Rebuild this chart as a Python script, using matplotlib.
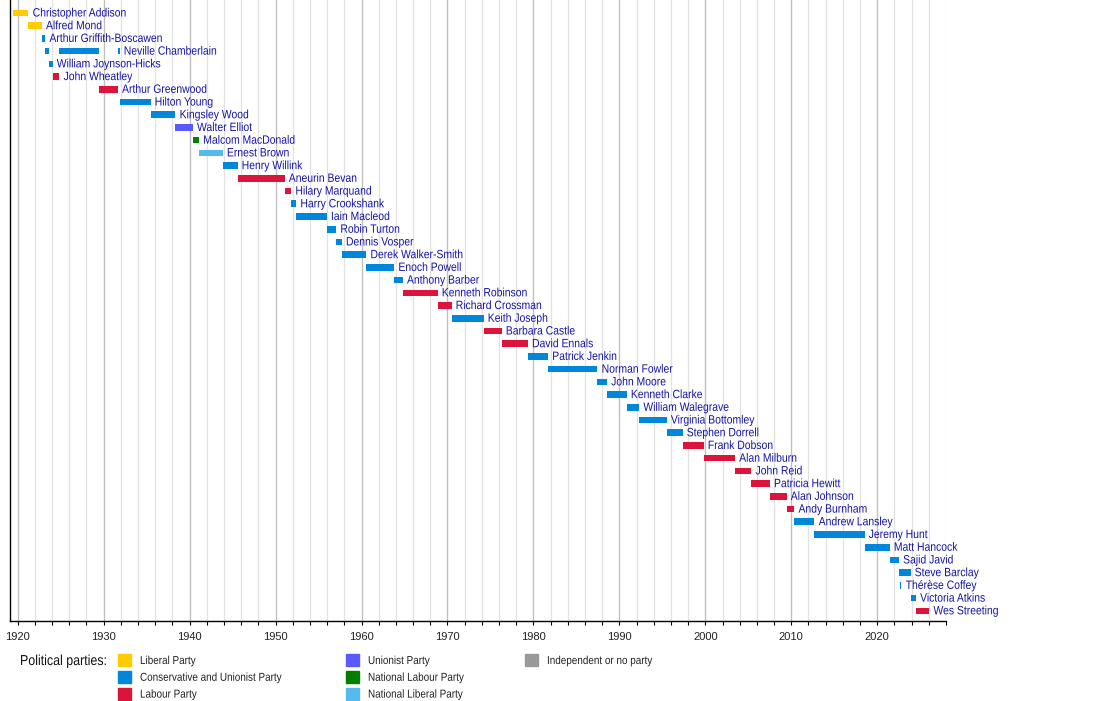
#!/usr/bin/env python3
"""Timeline of Ministers / Secretaries of State for Health, coloured by party"""

import matplotlib
matplotlib.use('Agg')
import matplotlib.pyplot as plt
from matplotlib.patches import Rectangle
from matplotlib.patheffects import AbstractPathEffect
from matplotlib.transforms import Affine2D
from matplotlib.ticker import MultipleLocator

FONT = ['Liberation Sans Narrow', 'Liberation Sans', 'DejaVu Sans']
NAME_C = '#1414a8'
SQ = 0.86   # no narrow face installed, so squeeze the glyphs by hand

# one row per person, top to bottom
names = ['Christopher Addison', 'Alfred Mond', 'Arthur Griffith-Boscawen',
         'Neville Chamberlain', 'William Joynson-Hicks', 'John Wheatley',
         'Arthur Greenwood', 'Hilton Young', 'Kingsley Wood', 'Walter Elliot',
         'Malcom MacDonald', 'Ernest Brown', 'Henry Willink', 'Aneurin Bevan',
         'Hilary Marquand', 'Harry Crookshank', 'Iain Macleod', 'Robin Turton',
         'Dennis Vosper', 'Derek Walker-Smith', 'Enoch Powell', 'Anthony Barber',
         'Kenneth Robinson', 'Richard Crossman', 'Keith Joseph', 'Barbara Castle',
         'David Ennals', 'Patrick Jenkin', 'Norman Fowler', 'John Moore',
         'Kenneth Clarke', 'William Walegrave', 'Virginia Bottomley',
         'Stephen Dorrell', 'Frank Dobson', 'Alan Milburn', 'John Reid',
         'Patricia Hewitt', 'Alan Johnson', 'Andy Burnham', 'Andrew Lansley',
         'Jeremy Hunt', 'Matt Hancock', 'Sajid Javid', 'Steve Barclay',
         'Thérèse Coffey', 'Victoria Atkins', 'Wes Streeting']

# terms in office (row index, start, end, party)
term_row = [0, 1, 2, 3, 3, 3, 4, 5, 6, 7, 8, 9, 10, 11, 12, 13, 14, 15, 16, 17,
            18, 19, 20, 21, 22, 23, 24, 25, 26, 27, 28, 29, 30, 31, 32, 33, 34,
            35, 36, 37, 38, 39, 40, 41, 42, 43, 44, 45, 46, 47]
term_start = [1919.47, 1921.25, 1922.80, 1923.20, 1924.85, 1931.65, 1923.65,
              1924.05, 1929.42, 1931.85, 1935.45, 1938.35, 1940.37, 1941.10,
              1943.85, 1945.57, 1951.05, 1951.82, 1952.40, 1955.95, 1957.05,
              1957.70, 1960.55, 1963.80, 1964.80, 1968.85, 1970.47, 1974.20,
              1976.30, 1979.35, 1981.70, 1987.45, 1988.55, 1990.85, 1992.30,
              1995.50, 1997.35, 1999.80, 2003.45, 2005.35, 2007.50, 2009.45,
              2010.35, 2012.70, 2018.52, 2021.45, 2022.52, 2022.68, 2023.87,
              2024.50]
term_end = [1921.25, 1922.80, 1923.20, 1923.65, 1929.42, 1931.85, 1924.05,
            1924.85, 1931.65, 1935.45, 1938.35, 1940.37, 1941.10, 1943.85,
            1945.57, 1951.05, 1951.82, 1952.40, 1955.95, 1957.05, 1957.70,
            1960.55, 1963.80, 1964.80, 1968.85, 1970.47, 1974.20, 1976.30,
            1979.35, 1981.70, 1987.45, 1988.55, 1990.85, 1992.30, 1995.50,
            1997.35, 1999.80, 2003.45, 2005.35, 2007.50, 2009.45, 2010.35,
            2012.70, 2018.52, 2021.45, 2022.52, 2023.87, 2022.82, 2024.50,
            2026.05]
term_party = ['lib', 'lib', 'con', 'con', 'con', 'con', 'con', 'lab', 'lab',
              'con', 'con', 'uni', 'nlab', 'nlib', 'con', 'lab', 'lab', 'con',
              'con', 'con', 'con', 'con', 'con', 'con', 'lab', 'lab', 'con',
              'lab', 'lab', 'con', 'con', 'con', 'con', 'con', 'con', 'con',
              'lab', 'lab', 'lab', 'lab', 'lab', 'lab', 'con', 'con', 'con',
              'con', 'con', 'con', 'con', 'lab']

party_keys = ['lib', 'con', 'lab', 'uni', 'nlab', 'nlib', 'ind']
party_labels = ['Liberal Party', 'Conservative and Unionist Party', 'Labour Party',
                'Unionist Party', 'National Labour Party', 'National Liberal Party',
                'Independent or no party']
party_colors = ['#FFCC00', '#0087DC', '#DC143C', '#5A5AFF', '#007F00',
                '#55BBEE', '#999999']
COLOR = dict(zip(party_keys, party_colors))


class Squeeze(AbstractPathEffect):
    """scale text paths horizontally about a fixed display x"""
    def __init__(self, x0, sx):
        super().__init__()
        self.x0, self.sx = x0, sx

    def draw_path(self, renderer, gc, tpath, affine, rgbFace=None):
        aff = affine + Affine2D().translate(-self.x0, 0).scale(self.sx, 1).translate(self.x0, 0)
        renderer.draw_path(gc, tpath, aff, rgbFace)


W, H = 1100, 701
fig = plt.figure(figsize=(W / 100, H / 100), dpi=100)
ax = fig.add_axes([10 / W, 80 / H, 936 / W, 621 / H])
ax.set_xlim(1919.1, 2028)
ax.set_ylim(47.8, -1.02)

for r, s, e, p in zip(term_row, term_start, term_end, term_party):
    ax.barh(r, e - s, left=s, height=0.52, color=COLOR[p], linewidth=0, zorder=3)

# name sits after the last term of each row
GAP = 4.2
for i, nm in enumerate(names):
    last = max(e for r, e in zip(term_row, term_end) if r == i)
    x0 = ax.transData.transform((last, i))[0] + GAP
    ax.annotate(nm, (last, i), xytext=(GAP * 0.72, 0.7), textcoords='offset points',
                va='center_baseline', ha='left', fontsize=8.7, color=NAME_C,
                family=FONT, zorder=4, path_effects=[Squeeze(x0, SQ)])

ax.xaxis.set_major_locator(MultipleLocator(10))
ax.xaxis.set_minor_locator(MultipleLocator(2))
ax.grid(which='major', axis='x', color='#c0c0c0', lw=1.0, zorder=0)
ax.grid(which='minor', axis='x', color='#e2e2e2', lw=0.9, zorder=0)
ax.set_yticks([])
for sp in ('top', 'right'):
    ax.spines[sp].set_visible(False)
for sp in ('left', 'bottom'):
    ax.spines[sp].set_linewidth(1.0)
ax.tick_params(axis='x', which='major', length=3, width=0.8, pad=5)
ax.tick_params(axis='x', which='minor', length=3, width=0.8)
for t in ax.get_xticklabels():
    t.set_family(FONT)
    t.set_fontsize(8.0)
    t.set_color('#222222')

# legend, drawn in figure pixels
def px(x, y):
    return x / W, 1 - y / H

fig.text(*px(20, 661), 'Political parties:', fontsize=10.4, family=FONT,
         va='center', ha='left', color='#111111', path_effects=[Squeeze(20, SQ)])
col_x = [118, 346, 525]
for k, (lab, c) in enumerate(zip(party_labels, party_colors)):
    col = 0 if k < 3 else (1 if k < 6 else 2)
    row = k % 3
    x0 = col_x[col]
    yc = 660 + row * 16.8
    fx, fy = px(x0, yc + 6)
    fig.patches.append(Rectangle((fx, fy), 12.5 / W, 12 / H, color=c,
                                 transform=fig.transFigure, figure=fig))
    fig.text(*px(x0 + 22, yc + 1), lab, fontsize=8.3, family=FONT,
             va='center', ha='left', color='#222222',
             path_effects=[Squeeze(x0 + 22, SQ)])

fig.savefig('out.png', dpi=100, facecolor='white')
